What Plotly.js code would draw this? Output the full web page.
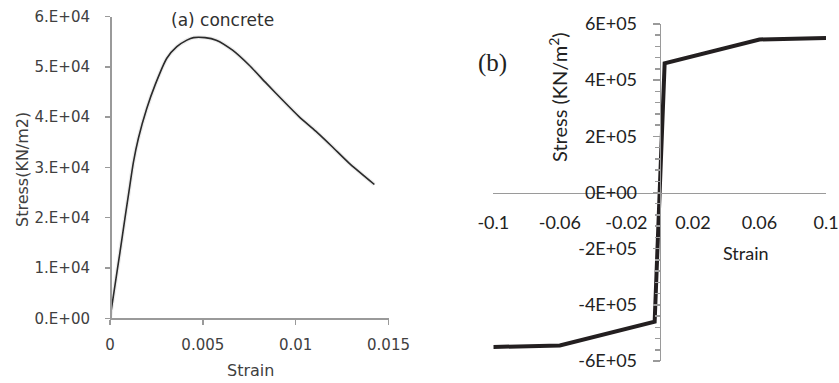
<!DOCTYPE html>
<html>
<head>
<meta charset="utf-8">
<script src="https://cdn.plot.ly/plotly-3.0.1.min.js"></script>
<style>html,body{margin:0;padding:0;background:#fff;}#chart{width:839px;height:383px;}</style>
</head>
<body>
<div id="chart"></div>
<script>
// Panel (a): concrete stress-strain
const concreteStrain = [0, 0.00027, 0.00054, 0.00081, 0.00102, 0.00126, 0.00153, 0.00198, 0.00243, 0.00306, 0.0036, 0.00414, 0.0045, 0.00512, 0.00572, 0.0066, 0.0075, 0.0084, 0.00929, 0.01018, 0.01108, 0.01197, 0.01286, 0.01424];
const concreteStress = [0, 6600, 13200, 20000, 25200, 31000, 35800, 41700, 46400, 51700, 54000, 55300, 55800, 55800, 55300, 53300, 50300, 46800, 43400, 40100, 37200, 34100, 30900, 26600];
const aXTickVals = [0, 0.005, 0.01, 0.015];
const aXTickText = ['0', '0.005', '0.01', '0.015'];
const aYTickVals = [0, 10000, 20000, 30000, 40000, 50000, 60000];
const aYTickText = ['0.E+00', '1.E+04', '2.E+04', '3.E+04', '4.E+04', '5.E+04', '6.E+04'];

// Panel (b): steel stress-strain
const steelStrain = [-0.1, -0.06, -0.003, 0.003, 0.06, 0.1];
const steelStress = [-550000, -545000, -460000, 460000, 545000, 550000];
const bXTickVals = [-0.1, -0.06, -0.02, 0.02, 0.06, 0.1];
const bXTickText = ['-0.1', '-0.06', '-0.02', '0.02', '0.06', '0.1'];
const bYTickVals = [-600000, -400000, -200000, 0, 200000, 400000, 600000];
const bYTickText = ['-6E+05', '-4E+05', '-2E+05', '0E+00', '2E+05', '4E+05', '6E+05'];

const W = 839, H = 383;
const px = v => v / W;
const py = v => 1 - v / H;

const aXDom = [px(110), px(388.5)];
const aYDom = [py(318.3), py(16.5)];
const bXDom = [px(493.3), px(826)];
const bYDom = [py(361), py(24)];
const bXMid = (bXDom[0] + bXDom[1]) / 2;
const bYMid = (bYDom[0] + bYDom[1]) / 2;

const axisGrey = '#9a9a9a';
const fontA = {family: 'DejaVu Sans', size: 15, color: '#404040'};
const fontB = {family: 'Lato', size: 18, color: '#222'};

const traces = [
  {x: concreteStrain, y: concreteStress, xaxis: 'x', yaxis: 'y', mode: 'lines',
   line: {color: '#ececec', width: 4, shape: 'spline', smoothing: 0.6}, hoverinfo: 'skip', showlegend: false},
  {x: concreteStrain, y: concreteStress, xaxis: 'x', yaxis: 'y', mode: 'lines',
   line: {color: '#2a2a2a', width: 1.6, shape: 'spline', smoothing: 0.6}, showlegend: false},
  {x: steelStrain, y: steelStress, xaxis: 'x2', yaxis: 'y2', mode: 'lines',
   line: {color: '#231f20', width: 4}, showlegend: false}
];

const layout = {
  width: W, height: H,
  margin: {l: 0, r: 0, t: 0, b: 0},
  paper_bgcolor: '#fff', plot_bgcolor: 'rgba(0,0,0,0)',
  showlegend: false,
  xaxis: {domain: aXDom, range: [0, 0.015], anchor: 'y', showgrid: false, zeroline: false,
    showline: true, linecolor: axisGrey, linewidth: 1.5, ticks: 'outside', ticklen: 5, tickcolor: axisGrey, tickwidth: 1.5,
    tickvals: aXTickVals, ticktext: aXTickText, tickfont: fontA, ticklabelstandoff: 7},
  yaxis: {domain: aYDom, range: [0, 60000], anchor: 'free', position: aXDom[0], showgrid: false, zeroline: false,
    showline: true, linecolor: axisGrey, linewidth: 1.5, ticks: 'outside', ticklen: 5, tickcolor: axisGrey, tickwidth: 1.5,
    tickvals: aYTickVals, ticktext: aYTickText, tickfont: fontA, ticklabelstandoff: 12},
  xaxis2: {domain: bXDom, range: [-0.1, 0.1], anchor: 'free', position: bYMid, showgrid: false, zeroline: false,
    showline: true, linecolor: axisGrey, linewidth: 1.5, ticks: '',
    tickvals: bXTickVals, ticktext: bXTickText, tickfont: fontB, ticklabelstandoff: 13},
  yaxis2: {domain: bYDom, range: [-600000, 600000], anchor: 'free', position: bXMid, showgrid: false, zeroline: false,
    showline: true, linecolor: axisGrey, linewidth: 1.5, ticks: 'outside', ticklen: 7, tickcolor: axisGrey, tickwidth: 1.5,
    minor: {dtick: 40000, ticks: 'outside', ticklen: 5, tickcolor: axisGrey, tickwidth: 1.5},
    tickvals: bYTickVals, ticktext: bYTickText, tickfont: fontB, ticklabelstandoff: 12},
  yaxis3: {domain: bYDom, range: [-600000, 600000], anchor: 'free', position: bXMid, overlaying: 'y2',
    showgrid: false, zeroline: false, showline: false, showticklabels: false,
    ticks: 'inside', ticklen: 7, tickcolor: axisGrey, tickwidth: 1.5,
    minor: {dtick: 40000, ticks: 'inside', ticklen: 5, tickcolor: axisGrey, tickwidth: 1.5},
    tickvals: bYTickVals},
  annotations: [
    {text: '(a) concrete', xref: 'paper', yref: 'paper', x: px(222), y: py(20), showarrow: false,
     xanchor: 'center', yanchor: 'middle', font: {family: 'DejaVu Sans', size: 17, color: '#303030'}},
    {text: 'Strain', xref: 'paper', yref: 'paper', x: px(250), y: py(370), showarrow: false,
     xanchor: 'center', yanchor: 'middle', font: {family: 'DejaVu Sans', size: 16, color: '#404040'}},
    {text: 'Stress(KN/m2)', xref: 'paper', yref: 'paper', x: px(22), y: py(170), showarrow: false, textangle: -90,
     xanchor: 'center', yanchor: 'middle', font: {family: 'DejaVu Sans', size: 16, color: '#404040'}},
    {text: '(b)', xref: 'paper', yref: 'paper', x: px(492), y: py(63), showarrow: false,
     xanchor: 'center', yanchor: 'middle', font: {family: 'Liberation Serif', size: 25, color: '#222'}},
    {text: 'Strain', xref: 'paper', yref: 'paper', x: px(746), y: py(253), showarrow: false,
     xanchor: 'center', yanchor: 'middle', font: fontB},
    {text: 'Stress (KN/m<sup>2</sup>)', xref: 'paper', yref: 'paper', x: px(558), y: py(97), showarrow: false, textangle: -90,
     xanchor: 'center', yanchor: 'middle', font: {family: 'Lato', size: 20, color: '#222'}}
  ]
};

Plotly.newPlot('chart', traces, layout, {staticPlot: true, displayModeBar: false});
</script>
</body>
</html>
